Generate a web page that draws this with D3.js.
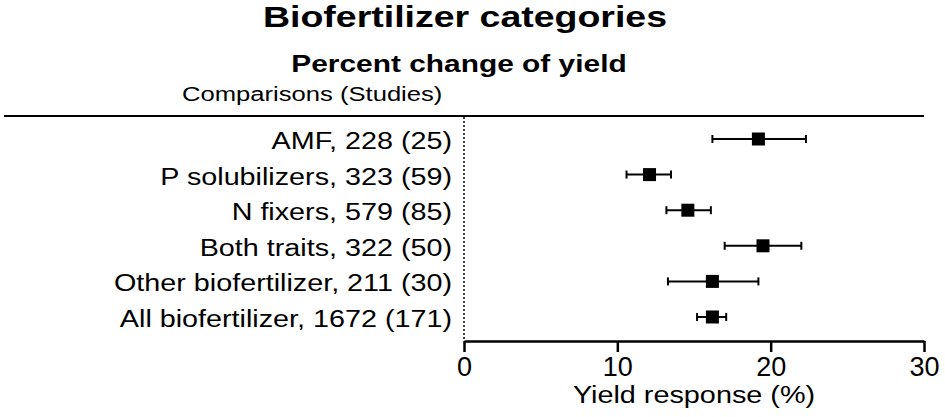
<!DOCTYPE html>
<html>
<head>
<meta charset="utf-8">
<script src="https://cdn.jsdelivr.net/npm/d3@7"></script>
<style>
  body { margin: 0; background: #fff; }
  text { font-family: "Liberation Sans", Arial, sans-serif; fill: #000; }
</style>
</head>
<body>
<div id="chart"></div>
<script>
// data
let categories = ["AMF", "P solubilizers", "N fixers", "Both traits", "Other biofertilizer", "All biofertilizer"];
let comparisons = [228, 323, 579, 322, 211, 1672];
let studies = [25, 59, 85, 50, 30, 171];
let estimate = [19.2, 12.1, 14.6, 19.5, 16.2, 16.2];
let ciLow = [16.2, 10.6, 13.2, 17.0, 13.3, 15.2];
let ciHigh = [22.3, 13.5, 16.1, 22.0, 19.2, 17.1];
let xTicks = [0, 10, 20, 30];

let width = 945, height = 417;
// the source figure is stretched sideways, so text is widened a bit
let stretch = 1.25;

let svg = d3.select("#chart")
    .append("svg")
    .attr("width", width)
    .attr("height", height);

let x = d3.scaleLinear().domain([0, 30]).range([464, 924]);
let y = d3.scalePoint().domain(categories).range([139, 317]);

let rows = categories.map(function (c, i) {
    return { cat: c, n: comparisons[i], s: studies[i], est: estimate[i], lo: ciLow[i], hi: ciHigh[i] };
});

// put a text at (tx,ty) widened by sx
function wideText(tx, ty, sx, anchor, size, weight, str) {
    let t = svg.append("g")
        .attr("transform", "translate(" + tx + "," + ty + ") scale(" + sx + ",1)")
        .append("text")
        .attr("text-anchor", anchor)
        .style("font-size", size + "px")
        .style("font-weight", weight)
        .text(str);
    return t;
}

// titles
wideText(465, 27, 1.25, "middle", 30, "bold", "Biofertilizer categories");
wideText(459, 72, 1.22, "middle", 24.5, "bold", "Percent change of yield");
wideText(182, 101, 1.22, "start", 21, "normal", "Comparisons (Studies)");

// header rule
svg.append("line")
    .attr("x1", 4).attr("x2", 924)
    .attr("y1", 116).attr("y2", 116)
    .attr("stroke", "#000").attr("stroke-width", 2);

// zero reference line
svg.append("line")
    .attr("x1", x(0)).attr("x2", x(0))
    .attr("y1", 117).attr("y2", 341)
    .attr("stroke", "#000").attr("stroke-width", 1.5)
    .attr("stroke-dasharray", "2,2");

// row labels
rows.forEach(function (d) {
    wideText(452, y(d.cat) + 10, stretch, "end", 23, "normal",
        d.cat + ", " + d.n + " (" + d.s + ")");
});

// error bars
let g = svg.append("g");
g.selectAll(".ci")
    .data(rows)
    .enter().append("line")
    .attr("x1", function (d) { return x(d.lo); })
    .attr("x2", function (d) { return x(d.hi); })
    .attr("y1", function (d) { return y(d.cat); })
    .attr("y2", function (d) { return y(d.cat); })
    .attr("stroke", "#000").attr("stroke-width", 2);

g.selectAll(".capl")
    .data(rows)
    .enter().append("line")
    .attr("x1", function (d) { return x(d.lo); })
    .attr("x2", function (d) { return x(d.lo); })
    .attr("y1", function (d) { return y(d.cat) - 4; })
    .attr("y2", function (d) { return y(d.cat) + 4; })
    .attr("stroke", "#000").attr("stroke-width", 2);

g.selectAll(".caph")
    .data(rows)
    .enter().append("line")
    .attr("x1", function (d) { return x(d.hi); })
    .attr("x2", function (d) { return x(d.hi); })
    .attr("y1", function (d) { return y(d.cat) - 4; })
    .attr("y2", function (d) { return y(d.cat) + 4; })
    .attr("stroke", "#000").attr("stroke-width", 2);

g.selectAll(".pt")
    .data(rows)
    .enter().append("rect")
    .attr("x", function (d) { return x(d.est) - 6.5; })
    .attr("y", function (d) { return y(d.cat) - 6.5; })
    .attr("width", 13).attr("height", 13)
    .attr("fill", "#000");

// x axis
let axis = svg.append("g")
    .attr("transform", "translate(0,341)")
    .call(d3.axisBottom(x).tickValues(xTicks).tickSize(11).tickSizeOuter(0).tickPadding(5));
axis.select(".domain").attr("stroke-width", 2.5);
axis.selectAll(".tick line").attr("stroke-width", 2.5);
axis.selectAll(".tick text")
    .style("font-family", "Liberation Sans, Arial, sans-serif")
    .style("font-size", "27px");

wideText(694, 403, 1.2, "middle", 24, "normal", "Yield response (%)");
</script>
</body>
</html>
